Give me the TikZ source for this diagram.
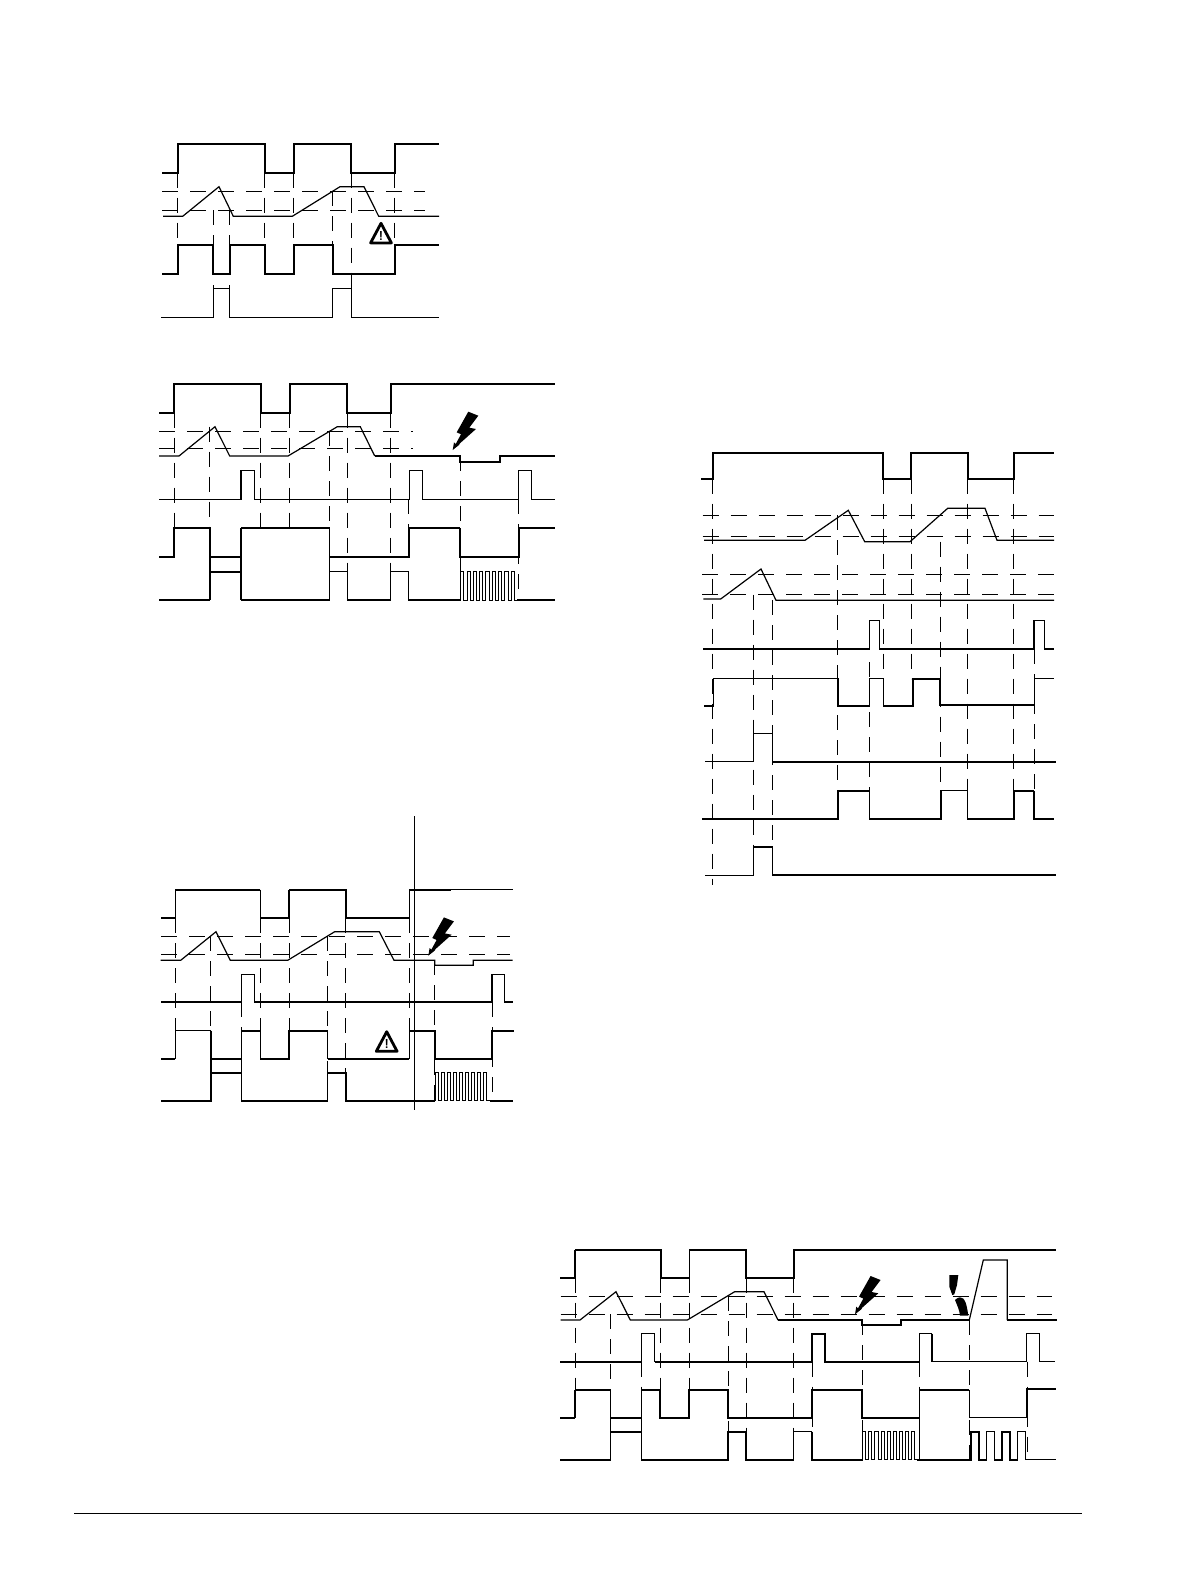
\documentclass[tikz,border=0pt]{standalone}
\usepackage{amsmath,amssymb}
\newcommand{\boltmark}[1]{\fill[shift={(#1)}] (0,0)--(1.3,-7.7)--(3,-6)--(8.3,-15.7)--(4,-17.7)--(15.6,-38.3)--(25.6,-34.3)--(16.6,-22.3)--(23.3,-21)--(7.3,-6.7)--(6.3,-5)--cycle;}
\newcommand{\warnmark}[2]{\draw[line width=2.8pt,line join=round,fill=white,shift={(#1)}] (0,0)--(10.4,19.6)--(-10.4,19.6)--cycle;
\node[font=\sffamily\bfseries\fontsize{13}{13}\selectfont,inner sep=0pt,shift={(#1)}] (#2) at (0,12.5) {!};}
\newcommand{\pulsetrain}[4]{\draw[sigs] (#1,#2) \foreach \i in {1,...,9}{ -- ++(0,-#3) -- ++(#4,0) -- ++(0,#3) -- ++(#4,0)};}

\begin{document}
\begin{tikzpicture}[x=1pt,y=-1pt,
  sig/.style={line width=1.2pt,line join=miter},
  sigb/.style={line width=2pt,line join=miter},
  sigs/.style={line width=.9pt,line join=miter},
  thr/.style={line width=.9pt,dash pattern=on 16pt off 12pt},
  vdash/.style={line width=.9pt,dash pattern=on 15pt off 10pt}]
\useasboundingbox (0,0) rectangle (1190,1584);
%
% upper left
\draw[sigb](162,172.7)--(177.7,172.7)--(177.7,144)--(264.7,144)--(264.7,172.7)--(293.7,172.7)--(293.7,144)--(351.3,144)--(351.3,172.7)--(394.7,172.7)--(394.7,144)--(439,144);
\draw[thr](162,191.3)--(425,191.3);
\draw[thr](162,210.3)--(425,210.3);
\draw[sig](163,216.3)--(182.7,216.3)--(219,186.7)--(233.3,216.3)--(292.3,216.3)--(340,186.7)--(364,186.7)--(378.7,216.3)--(439,216.3);
\draw[sigb](162,273.7)--(178.3,273.7)--(178.3,245)--(213.3,245)--(213.3,273.7)--(229.7,273.7)--(229.7,245)--(264.7,245)--(264.7,273.7)--(293.7,273.7)--(293.7,245)--(332.7,245)--(332.7,273.7)--(394.7,273.7)--(394.7,245)--(439,245);
\draw[sig](161,317.3)--(213.3,317.3)--(213.3,288.7)--(229.7,288.7)--(229.7,317.3)--(332.7,317.3)--(332.7,288.7)--(351.3,288.7)--(351.3,317.3)--(439,317.3);
\foreach \x/\a/\b in {177.7/172.7/245,213.3/210.3/288.7,229.7/210.3/288.7,264.7/172.7/245,293.7/172.7/245,332.7/191.3/273.7,351.3/172.7/288.7,394.7/172.7/245}
  \draw[vdash](\x,\a)--(\x,\b);
\warnmark{381,223.3}{warnA}
%
% middle left
\draw[sigb](159,412.7)--(174,412.7)--(174,383.7)--(260.7,383.7)--(260.7,412.7)--(289.7,412.7)--(289.7,383.7)--(347.3,383.7)--(347.3,412.7)--(390.7,412.7)--(390.7,383.7)--(555,383.7);
\draw[thr](159,431.3)--(413,431.3);
\draw[thr](159,448.3)--(413,448.3);
\draw[sig](159,456)--(179,456)--(215,426.7)--(229.7,456)--(288,456)--(337.3,426.7)--(360.3,426.7)--(374.7,456);
\draw[sigb](374.7,456)--(460,456)--(460,461.7)--(500.3,461.7)--(500.3,456)--(555,456);
\draw[sig](159,499.3)--(241,499.3)--(241,470.3)--(254.3,470.3)--(254.3,499.3)--(409.7,499.3)--(409.7,470.3)--(422.3,470.3)--(422.3,499.3)--(518.7,499.3)--(518.7,470.3)--(531.7,470.3)--(531.7,499.3)--(555,499.3);
\draw[sigb](159,557)--(174,557)--(174,528)--(210,528)--(210,557)--(241,557)--(241,528);
\draw[sig](241,528)--(329.3,528)--(329.3,557);
\draw[sigb](329.3,557)--(409.3,557)--(409.3,528);
\draw[sig](409.3,528)--(460,528);
\draw[sigb](460,528)--(460,557)--(518.7,557)--(518.7,528)--(555,528);
\draw[sig](159,600)--(210,600);
\draw[sigb](210,600)--(210,571.7)--(241,571.7)--(241,600);
\draw[sigb](210,557)--(210,571.7);
\draw[sigb](241,557)--(241,571.7);
\draw[sig](241,600)--(329.3,600)--(329.3,571.7)--(347.3,571.7)--(347.3,600)--(390.7,600)--(390.7,571.7)--(408.7,571.7)--(408.7,600)--(460.7,600);
\pulsetrain{460.7}{600}{28.3}{3.15}
\draw[sig](517.4,600)--(555,600);
\foreach \x/\a/\b in {174/412.7/528,209.3/426.7/557,260.3/412.7/528,289.7/412.7/528,329.3/431.3/600,347.3/412.7/600,390.7/412.7/600,408.7/499.3/557,460.7/456/600,518.7/499.3/600}
  \draw[vdash](\x,\a)--(\x,\b);
\boltmark{452.7,450}
%
% lower left
\draw[sig](414.3,816)--(414.3,1110);
\draw[sig](161,918)--(175.3,918)--(175.3,889.7);
\draw[sigb](175.3,889.7)--(260.3,889.7);
\draw[sig](260.3,889.7)--(260.3,918)--(289,918)--(289,889.7);
\draw[sigb](289,889.7)--(346.3,889.7)--(346.3,918);
\draw[sig](346.3,918)--(409.3,918)--(409.3,889.7);
\draw[sigb](409.3,889.7)--(450.7,889.7);
\draw[sig](450.7,889.7)--(512.7,889.7);
\draw[thr](161,936.3)--(510,936.3);
\draw[thr](161,954.3)--(510,954.3);
\draw[sig](160.7,960.3)--(180.7,960.3)--(216,931.7)--(230.3,960.3)--(287.7,960.3)--(334.7,931.7)--(379.3,931.7)--(394,960.3)--(434.7,960.3)--(434.7,965.3)--(473.3,965.3)--(473.3,960.3)--(512.7,960.3);
\draw[sigb](161,1002)--(241.3,1002);
\draw[sig](241.3,1002)--(241.3,974.3)--(254.7,974.3)--(254.7,1002)--(492,1002)--(492,974.3)--(504.3,974.3)--(504.3,1002)--(513.3,1002);
\draw[sig](175.3,1058.7)--(175.3,1030.7)--(211.3,1030.7);
\draw[sigb](161,1058.7)--(175.3,1058.7);
\draw[sigb](211.3,1030.7)--(211.3,1072.7);
\draw[sigb](211.3,1058.7)--(241.3,1058.7);
\draw[sig](241.3,1072.7)--(241.3,1030.7);
\draw[sigb](241.3,1030.7)--(260.3,1030.7);
\draw[sig](260.3,1030.7)--(260.3,1058.7);
\draw[sigb](260.3,1058.7)--(289,1058.7)--(289,1030.7)--(327.7,1030.7);
\draw[sig](327.7,1030.7)--(327.7,1058.7);
\draw[sigb](327.7,1058.7)--(409.3,1058.7);
\draw[sig](409.3,1058.7)--(409.3,1030.7);
\draw[sigb](409.3,1030.7)--(434.7,1030.7)--(434.7,1058.7)--(492,1058.7)--(492,1030.7)--(514,1030.7);
\draw[sigb](161,1100.7)--(211.3,1100.7)--(211.3,1072.7)--(241.3,1072.7);
\draw[sig](241.3,1072.7)--(241.3,1100.7);
\draw[sigb](241.3,1100.7)--(327.7,1100.7);
\draw[sig](327.7,1100.7)--(327.7,1072.7);
\draw[sigb](327.7,1072.7)--(346.3,1072.7)--(346.3,1100.7)--(353,1100.7);
\draw[sigb](353,1100.7)--(435,1100.7);
\pulsetrain{435}{1100.7}{28}{3.05}
\draw[sigb](490,1100.7)--(512.7,1100.7);
\foreach \x/\a/\b in {175.3/918/1030.7,210.7/936.3/1058.7,241.3/1002/1030.7,260.3/918/1030.7,289.7/918/1030.7,327.7/936.3/1100.7,345.7/918/1100.7,409.3/918/1030.7,434.7/960.3/1100.7,492/1002/1100.7}
  \draw[vdash](\x,\a)--(\x,\b);
\boltmark{428.3,955.7}
\warnmark{386.7,1031.7}{warnB}
%
% right
\draw[sigb](701,478.7)--(713.3,478.7)--(713.3,452.7)--(883.3,452.7)--(883.3,478.7)--(911.3,478.7)--(911.3,452.7)--(968.3,452.7)--(968.3,478.7)--(1013.7,478.7)--(1013.7,452.7)--(1054,452.7);
\draw[thr](702.7,515.3)--(1054,515.3);
\draw[thr](702.7,536.3)--(1054,536.3);
\draw[sig](704,540.3)--(805,540.3)--(848.3,510.3)--(864.7,541.7)--(910,541.7)--(947.7,508.3)--(985,508.3)--(997,540.3)--(1054,540.3);
\draw[thr](702,574.3)--(1054,574.3);
\draw[thr](702,594.7)--(1054,594.7);
\draw[sig](703.3,599)--(720.7,599)--(761,569)--(776,600.3)--(1054,600.3);
\draw[sigb](703.3,649)--(869.7,649);
\draw[sig](869.7,649)--(869.7,620.7)--(879.3,620.7)--(879.3,649);
\draw[sigb](879.3,649)--(1034,649);
\draw[sig](1034,649)--(1034,620.7)--(1044.7,620.7)--(1044.7,649)--(1054,649);
\draw[sig](704.3,706)--(713.3,706)--(713.3,678.7)--(838,678.7)--(838,706)--(869.7,706)--(869.7,678.7)--(883.3,678.7)--(883.3,706);
\draw[sigb](883.3,706)--(912.7,706)--(912.7,678.7)--(940.3,678.7)--(940.3,704.7)--(1034.3,704.7);
\draw[sig](1034.3,704.7)--(1034.3,678.7)--(1054,678.7);
\draw[sig](705,761.7)--(753.3,761.7)--(753.3,733.3)--(772.3,733.3)--(772.3,761.7);
\draw[sigb](772.3,761.7)--(1056,761.7);
\draw[sigb](702,819)--(838,819)--(838,790.7)--(869.7,790.7);
\draw[sig](869.7,790.7)--(869.7,819)--(941,819)--(941,790.7)--(967.3,790.7)--(967.3,819);
\draw[sigb](967.3,819)--(1013.7,819)--(1013.7,790.7)--(1034,790.7);
\draw[sig](1034,790.7)--(1034,819)--(1054,819);
\draw[sig](705,875.3)--(753.3,875.3)--(753.3,847)--(772.3,847)--(772.3,875.3);
\draw[sigb](772.3,875.3)--(1056,875.3);
\foreach \x/\a/\b in {712.3/478.7/885,753.3/594.7/847,772.3/600.3/847,837.3/515.3/790.7,869.7/662/790.7,883.3/478.7/678.7,911.3/478.7/678.7,940.3/541.7/790.7,967.3/478.7/790.7,1013.3/478.7/790.7,1034/649/790.7}
  \draw[vdash](\x,\a)--(\x,\b);
%
% bottom right
\draw[sigb](560,1277.7)--(575,1277.7);
\draw[sig](575,1277.7)--(575,1249.7);
\draw[sigb](575,1249.7)--(660.7,1249.7)--(660.7,1277.7)--(689.3,1277.7);
\draw[sig](689.3,1277.7)--(689.3,1249.7);
\draw[sigb](689.3,1249.7)--(746.3,1249.7)--(746.3,1277.7)--(793.7,1277.7)--(793.7,1249.7)--(1056,1249.7);
\draw[thr](560.7,1296.3)--(1051.7,1296.3);
\draw[thr](560.7,1314.3)--(1051.7,1314.3);
\draw[sig](560.7,1320)--(580,1320)--(616,1291.7)--(630.3,1320)--(687.3,1320)--(734.7,1291.7)--(764,1291.7)--(778,1320);
\draw[sigb](778,1320)--(862.3,1320)--(862.3,1324.7)--(901,1324.7)--(901,1320)--(969.3,1320);
\draw[sig](969.3,1320)--(983.3,1260)--(1007.3,1260)--(1007.3,1320);
\draw[sigb](1007.3,1320)--(1056.7,1320);
\draw[sigb](560,1361.7)--(641.3,1361.7);
\draw[sig](641.3,1361.7)--(641.3,1333.7)--(654.7,1333.7)--(654.7,1361.7);
\draw[sigb](654.7,1361.7)--(812,1361.7)--(812,1333.7)--(824.7,1333.7)--(824.7,1361.7)--(919.3,1361.7);
\draw[sig](919.3,1361.7)--(919.3,1333.7)--(932.3,1333.7);
\draw[sigb](932.3,1333.7)--(932.3,1361.7);
\draw[sig](932.3,1361.7)--(1026.7,1361.7)--(1026.7,1333.7)--(1039.3,1333.7)--(1039.3,1361.7)--(1055,1361.7);
\draw[sigb](560,1417.7)--(575,1417.7);
\draw[sig](575,1417.7)--(575,1389.7);
\draw[sigb](575,1389.7)--(610.7,1389.7);
\draw[sig](610.7,1389.7)--(610.7,1431.7);
\draw[sigb](610.7,1417.7)--(641.3,1417.7);
\draw[sig](641.3,1431.7)--(641.3,1389.7);
\draw[sigb](641.3,1389.7)--(660.3,1389.7)--(660.3,1417.7)--(689,1417.7)--(689,1389.7)--(728,1389.7)--(728,1417.7)--(812.3,1417.7)--(812.3,1389.7)--(862,1389.7)--(862,1417.7)--(919.3,1417.7);
\draw[sig](919.3,1459.7)--(919.3,1389.7);
\draw[sigb](919.3,1389.7)--(969.3,1389.7);
\draw[sig](969.3,1389.7)--(969.3,1417.7)--(1027,1417.7);
\draw[sigb](1027,1417.7)--(1027,1388.7)--(1056,1388.7);
\draw[sigb](560,1459.7)--(610.7,1459.7);
\draw[sig](610.7,1459.7)--(610.7,1431.7);
\draw[sigb](610.7,1431.7)--(641.3,1431.7);
\draw[sig](641.3,1431.7)--(641.3,1459.7);
\draw[sigb](641.3,1459.7)--(728,1459.7)--(728,1431.7)--(746.3,1431.7)--(746.3,1459.7)--(793.7,1459.7);
\draw[sig](793.7,1459.7)--(793.7,1431.7)--(812,1431.7);
\draw[sigb](812,1431.7)--(812,1459.7)--(862.7,1459.7);
\pulsetrain{862.7}{1459.7}{28}{3.05}
\draw[sigb](917,1459.7)--(971.3,1459.7)--(971.3,1431.7)--(979.3,1431.7)--(979.3,1459.7)--(986.7,1459.7);
\draw[sig](986.7,1459.7)--(986.7,1431.7)--(994.3,1431.7)--(994.3,1459.7);
\draw[sigb](994.3,1459.7)--(1002,1459.7)--(1002,1431.7)--(1010,1431.7)--(1010,1459.7)--(1017.7,1459.7);
\draw[sig](1017.7,1459.7)--(1017.7,1431.7)--(1025.7,1431.7)--(1025.7,1459.7)--(1056,1459.7);
\foreach \x/\a/\b in {575/1277.7/1389.7,610.7/1314.3/1417.7,641.3/1361.7/1389.7,660.3/1277.7/1389.7,689.3/1277.7/1389.7,728/1296.3/1459.7,746.3/1277.7/1459.7,793.7/1277.7/1431.7,812/1361.7/1431.7,862/1320/1459.7,919.3/1361.7/1389.7,969.3/1320/1459.7,1027/1361.7/1459.7}
  \draw[vdash](\x,\a)--(\x,\b);
\boltmark{855,1314.3}
\fill(949.3,1275)--(958.3,1275)--(957,1285)--(954.3,1294.3)--(952.3,1295)--(949.3,1286.7)--cycle;
\fill(955,1300)..controls (957,1298) and (958.5,1297.3) .. (960,1297.3)..controls (963,1298) and (964,1299) .. (964.3,1300)..controls (966.5,1303) and (967.5,1310) .. (968.3,1315.7)--(960,1315.7)..controls (959.5,1310) and (957,1305) .. (955,1300)--cycle;
%
\draw[line width=1.3pt](74,1513.7)--(1082,1513.7);
\end{tikzpicture}
\end{document}
